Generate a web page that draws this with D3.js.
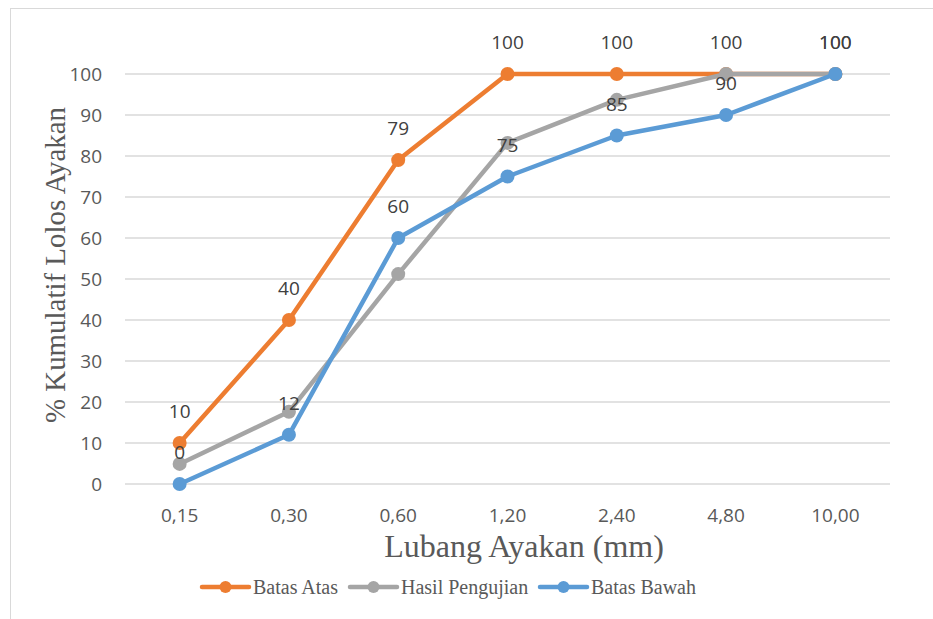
<!DOCTYPE html>
<html><head><meta charset="utf-8">
<script src="https://cdn.jsdelivr.net/npm/d3@7"></script>
<style>body{margin:0;background:#fff}svg{display:block}</style>
</head><body>
<script>
const categories = ["0,15","0,30","0,60","1,20","2,40","4,80","10,00"];
const batasAtas = [10,40,79,100,100,100,100];
const hasilPengujian = [4.9,17.6,51.2,83.2,93.7,100,100];
const batasBawah = [0,12,60,75,85,90,100];
const yTicks = [0,10,20,30,40,50,60,70,80,90,100];
const seriesNames = ["Batas Atas","Hasil Pengujian","Batas Bawah"];
const colors = ["#ED7D31","#A5A5A5","#5B9BD5"];

const W=933,H=619;
const svg=d3.select("body").append("svg").attr("width",W).attr("height",H);
svg.append("rect").attr("x",10.5).attr("y",8.5).attr("width",W).attr("height",H).attr("fill","#fff").attr("stroke","#D9D9D9");

const x=d3.scaleBand().domain(categories).range([125,890]);
const y=d3.scaleLinear().domain([0,100]).range([484,74]);
const cx=c=>x(c)+x.bandwidth()/2;
const numFont="'Open Sans',sans-serif";

// gridlines
svg.append("g").selectAll("line").data(yTicks).join("line")
 .attr("x1",125).attr("x2",890).attr("y1",d=>y(d)).attr("y2",d=>y(d))
 .attr("stroke","#D9D9D9").attr("stroke-width",1.3);

// y axis
const yAxis=svg.append("g").attr("transform","translate(125,0)")
 .call(d3.axisLeft(y).tickValues(yTicks).tickSize(0).tickPadding(23));
yAxis.select(".domain").remove();
yAxis.selectAll("text").attr("fill","#595959").style("font-family",numFont).style("font-size","19px");

// x axis
const xAxis=svg.append("g").attr("transform","translate(0,484)")
 .call(d3.axisBottom(x).tickSize(0).tickPadding(25));
xAxis.select(".domain").remove();
xAxis.selectAll("text").attr("fill","#595959").style("font-family",numFont).style("font-size","19px");

// axis titles
svg.append("text").attr("x",524).attr("y",557).attr("text-anchor","middle")
 .attr("fill","#595959").style("font-family","'Liberation Serif',serif").style("font-size","32px").text("Lubang Ayakan (mm)");
svg.append("text").attr("transform","translate(65,265) rotate(-90)").attr("text-anchor","middle")
 .attr("textLength",316).attr("lengthAdjust","spacingAndGlyphs")
 .attr("fill","#595959").style("font-family","'Liberation Serif',serif").style("font-size","30px").text("% Kumulatif Lolos Ayakan");

const data=[batasAtas,hasilPengujian,batasBawah];
const line=d3.line().x((d,i)=>cx(categories[i])).y(d=>y(d));
data.forEach((s,k)=>{
 svg.append("path").datum(s).attr("d",line).attr("fill","none").attr("stroke",colors[k]).attr("stroke-width",4.5).attr("stroke-linejoin","round").attr("stroke-linecap","round");
 svg.append("g").selectAll("circle").data(s).join("circle")
  .attr("cx",(d,i)=>cx(categories[i])).attr("cy",d=>y(d)).attr("r",7).attr("fill",colors[k]);
});
// data labels (Batas Atas and Batas Bawah)
[batasAtas,batasBawah].forEach(s=>{
 svg.append("g").selectAll("text").data(s).join("text")
  .attr("x",(d,i)=>cx(categories[i])).attr("y",d=>y(d)-25).attr("text-anchor","middle")
  .attr("fill","#404040").style("font-family",numFont).style("font-size","19px").text(d=>d);
});

// legend
const leg=[{x:202,t:"Batas Atas"},{x:350,t:"Hasil Pengujian"},{x:540,t:"Batas Bawah"}];
leg.forEach((l,k)=>{
 const g=svg.append("g");
 g.append("line").attr("x1",l.x).attr("x2",l.x+47).attr("y1",587).attr("y2",587).attr("stroke",colors[k]).attr("stroke-width",4.5).attr("stroke-linecap","round");
 g.append("circle").attr("cx",l.x+23.5).attr("cy",587).attr("r",6).attr("fill",colors[k]);
 g.append("text").attr("x",l.x+51).attr("y",594).attr("fill","#595959").style("font-family","'Liberation Serif',serif").style("font-size","20px").text(seriesNames[k]);
});
</script>
</body></html>
